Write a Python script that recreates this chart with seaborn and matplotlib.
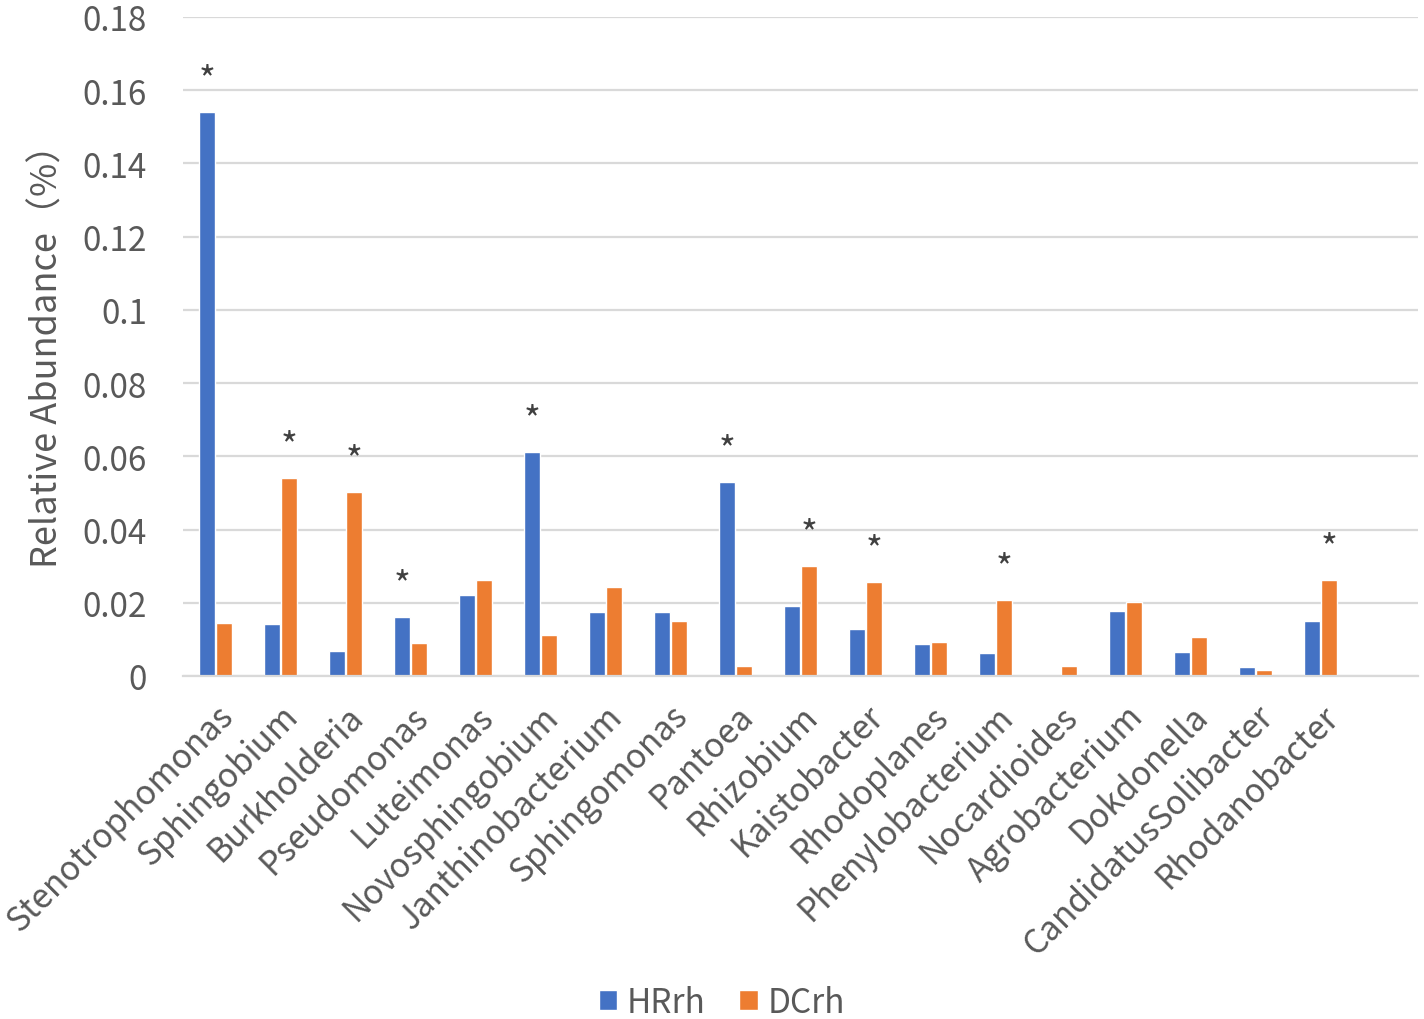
import pandas as pd
import seaborn as sns
import matplotlib.pyplot as plt

genera = [
    "Stenotrophomonas", "Sphingobium", "Burkholderia", "Pseudomonas", "Luteimonas",
    "Novosphingobium", "Janthinobacterium", "Sphingomonas", "Pantoea", "Rhizobium",
    "Kaistobacter", "Rhodoplanes", "Phenylobacterium", "Nocardioides", "Agrobacterium",
    "Dokdonella", "CandidatusSolibacter", "Rhodanobacter",
]
hrrh = [0.154, 0.0142, 0.0068, 0.0161, 0.0221, 0.0612, 0.0175, 0.0175, 0.053, 0.0192,
        0.0129, 0.0087, 0.0062, 0.0004, 0.0177, 0.0065, 0.0025, 0.015]
dcrh = [0.0145, 0.054, 0.0503, 0.009, 0.0262, 0.0112, 0.0243, 0.015, 0.0027, 0.030,
        0.0257, 0.0093, 0.0208, 0.0028, 0.0201, 0.0107, 0.0016, 0.0262]
significant = ["Stenotrophomonas", "Sphingobium", "Burkholderia", "Pseudomonas",
               "Novosphingobium", "Pantoea", "Rhizobium", "Kaistobacter",
               "Phenylobacterium", "Rhodanobacter"]

df = pd.DataFrame({"genus": genera * 2,
                   "group": ["HRrh"] * len(genera) + ["DCrh"] * len(genera),
                   "value": hrrh + dcrh})

sns.set_theme(style="white")
plt.rcParams["font.family"] = ["Noto Sans CJK SC", "DejaVu Sans"]
text_color = "#595959"

fig = plt.figure(figsize=(14.24, 10.2), dpi=100)
ax = fig.add_axes([0.1285, 0.3363, 0.8673, 0.6461])

sns.barplot(data=df, x="genus", y="value", hue="group", order=genera,
            hue_order=["HRrh", "DCrh"], palette=["#4472C4", "#ED7D31"],
            saturation=1, width=0.52, gap=0.1, ax=ax, legend=True)

# stars over the taller bar of each significant group
for i, g in enumerate(genera):
    if g not in significant:
        continue
    b1 = ax.patches[i]
    b2 = ax.patches[i + len(genera)]
    bar = b1 if b1.get_height() >= b2.get_height() else b2
    ax.text(bar.get_x() + bar.get_width() / 2, bar.get_height() + 0.0038, "*",
            ha="center", va="bottom", fontsize=26, color="#404040")

ax.set_xlim(-0.5, len(genera) + 0.5)
ax.set_ylim(0, 0.18)
ax.set_yticks([0, 0.02, 0.04, 0.06, 0.08, 0.1, 0.12, 0.14, 0.16, 0.18])
ax.set_yticklabels(["0", "0.02", "0.04", "0.06", "0.08", "0.1", "0.12", "0.14", "0.16", "0.18"])
ax.grid(axis="y", color="#D9D9D9", linewidth=1.6)
ax.set_axisbelow(True)
for s in ["top", "right", "left"]:
    ax.spines[s].set_visible(False)
ax.spines["bottom"].set_color("#D9D9D9")
ax.spines["bottom"].set_linewidth(1.6)
ax.tick_params(axis="both", length=0, colors=text_color, labelsize=24)
ax.tick_params(axis="y", pad=26)
ax.tick_params(axis="x", pad=16)
plt.setp(ax.get_xticklabels(), rotation=45, ha="right", va="top", rotation_mode="anchor")

ax.set_xlabel("")
ax.set_ylabel("Relative Abundance（%）", fontsize=26, color=text_color, labelpad=12)

handles, labels = ax.get_legend_handles_labels()
ax.get_legend().remove()
fig.legend(handles, labels, loc="lower center", bbox_to_anchor=(0.507, -0.03), ncol=2,
           frameon=False, fontsize=24, handlelength=0.55, handleheight=0.55,
           handletextpad=0.3, columnspacing=1.0, labelcolor=text_color)

fig.savefig("out.png", dpi=100)
